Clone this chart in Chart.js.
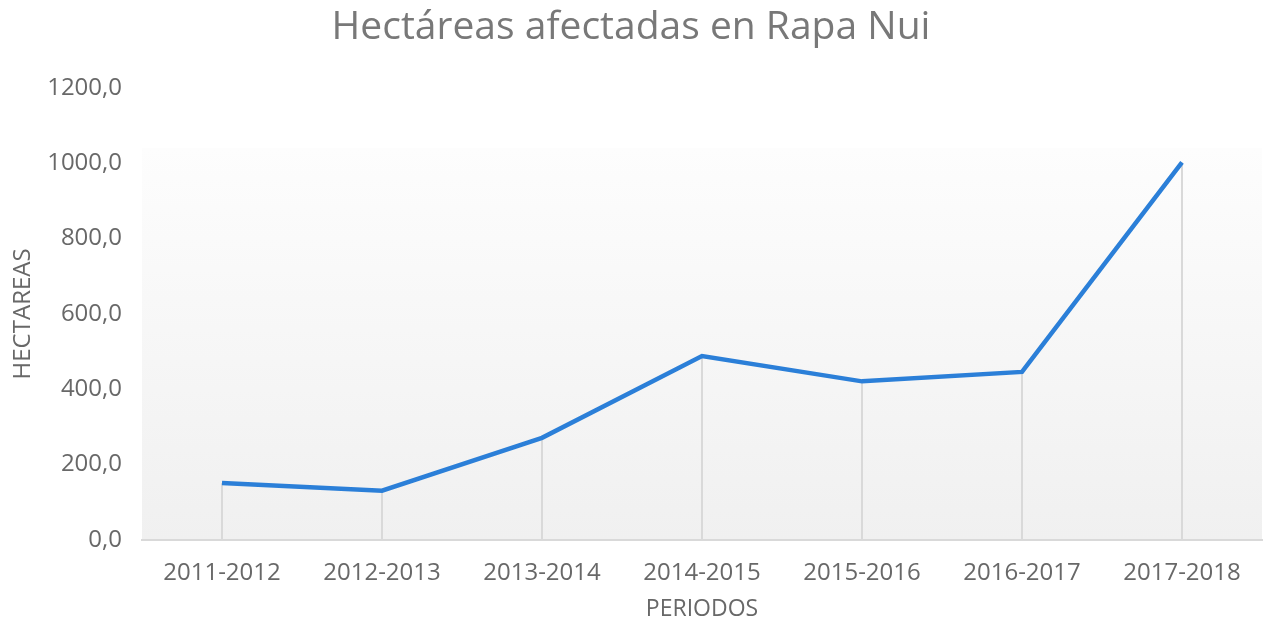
<!DOCTYPE html>
<html>
<head>
<meta charset="utf-8">
<script src="https://cdn.jsdelivr.net/npm/chart.js@4/dist/chart.umd.min.js"></script>
<style>
    html, body { margin: 0; padding: 0; background: #ffffff; }
    #wrap { width: 1263px; height: 623px; position: relative; }
</style>
</head>
<body>
<div id="wrap"><canvas id="hectChart"></canvas></div>
<script>
// Data
const periodos = ['2011-2012', '2012-2013', '2013-2014', '2014-2015', '2015-2016', '2016-2017', '2017-2018'];
const hectareas = [151, 131, 271, 488, 421, 446, 1002];
const yTicks = [0, 200, 400, 600, 800, 1000, 1200];

// Plot area gradient fill, drawn behind everything
const plotBackground = {
    id: 'plotBackground',
    beforeDraw(chart) {
        const { ctx, chartArea } = chart;
        const top = chartArea.top + 60;
        const grad = ctx.createLinearGradient(0, top, 0, chartArea.bottom);
        grad.addColorStop(0, '#fdfdfd');
        grad.addColorStop(1, '#f0f0f0');
        ctx.save();
        ctx.fillStyle = grad;
        ctx.fillRect(chartArea.left, top, chartArea.right - chartArea.left, chartArea.bottom - top);
        ctx.restore();
    }
};

// Vertical drop lines from each point down to the axis
const dropLines = {
    id: 'dropLines',
    beforeDatasetsDraw(chart) {
        const { ctx } = chart;
        const yScale = chart.scales.y;
        const meta = chart.getDatasetMeta(0);
        ctx.save();
        ctx.strokeStyle = '#d9d9d9';
        ctx.lineWidth = 2;
        meta.data.forEach(pt => {
            ctx.beginPath();
            ctx.moveTo(pt.x, pt.y);
            ctx.lineTo(pt.x, yScale.getPixelForValue(0));
            ctx.stroke();
        });
        ctx.restore();
    }
};

const ctx = document.getElementById('hectChart').getContext('2d');
new Chart(ctx, {
    type: 'line',
    data: {
        labels: periodos,
        datasets: [{
            label: 'Hectáreas',
            data: hectareas,
            borderColor: '#2b7fd8',
            borderWidth: 4.5,
            pointRadius: 0,
            tension: 0,
            fill: false
        }]
    },
    options: {
        responsive: true,
        maintainAspectRatio: false,
        animation: false,
        layout: {
            padding: { left: 0, right: 1, top: 0, bottom: 0 }
        },
        plugins: {
            legend: { display: false },
            tooltip: { enabled: false },
            title: {
                display: true,
                text: 'Hectáreas afectadas en Rapa Nui',
                color: '#787878',
                font: { family: '"Open Sans"', size: 39, weight: 'normal' },
                padding: { top: 4, bottom: 37 }
            }
        },
        scales: {
            x: {
                offset: true,
                grid: { display: false },
                border: { display: true, color: '#d9d9d9', width: 2 },
                ticks: {
                    color: '#686868',
                    font: { family: '"Open Sans"', size: 24 },
                    padding: 11,
                    maxRotation: 0
                },
                title: {
                    display: true,
                    text: 'PERIODOS',
                    color: '#686868',
                    font: { family: '"Open Sans"', size: 23 },
                    padding: { top: 0, bottom: 0 }
                },
                afterFit(scale) { scale.height = 83; }
            },
            y: {
                min: 0,
                max: 1200,
                afterBuildTicks(scale) {
                    scale.ticks = yTicks.map(v => ({ value: v }));
                },
                grid: { display: false },
                border: { display: false },
                ticks: {
                    color: '#686868',
                    font: { family: '"Open Sans"', size: 24 },
                    padding: 12,
                    callback: function(value) {
                        return value.toFixed(1).replace('.', ',');
                    }
                },
                title: {
                    display: true,
                    text: 'HECTAREAS',
                    color: '#686868',
                    font: { family: '"Open Sans"', size: 24 },
                    padding: { top: 9, bottom: 0 }
                },
                afterFit(scale) { scale.width = 142; }
            }
        }
    },
    plugins: [plotBackground, dropLines]
});
</script>
</body>
</html>
